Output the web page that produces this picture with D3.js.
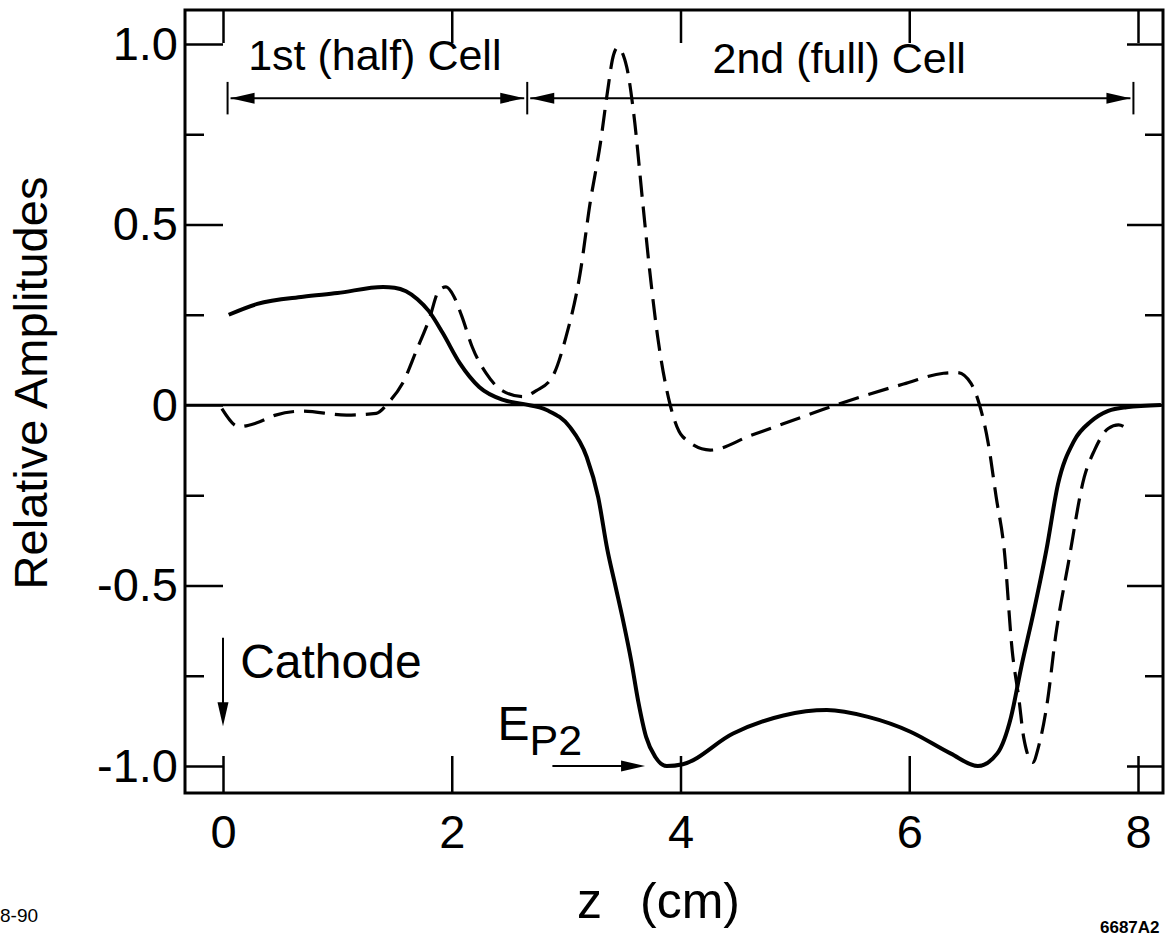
<!DOCTYPE html>
<html>
<head>
<meta charset="utf-8">
<title>Relative Amplitudes</title>
<style>
  body { margin: 0; background: #fff; }
  svg { display: block; }
  text { font-family: "Liberation Sans", Arial, Helvetica, sans-serif; fill: #000; }
  .axis text { font-size: 47px; }
  .axis line { stroke: #000; stroke-width: 2.5px; }
  .axis path { display: none; }
  .frame { fill: none; stroke: #000; stroke-width: 3px; }
  .zero { stroke: #000; stroke-width: 2.5px; }
  .solid { fill: none; stroke: #000; stroke-width: 4px; stroke-linejoin: round; }
  .dashed { fill: none; stroke: #000; stroke-width: 3.2px; stroke-dasharray: 21, 10; }
  .ann { stroke: #000; stroke-width: 2px; }
</style>
</head>
<body>
<script src="https://cdn.jsdelivr.net/npm/d3@7"></script>
<script>
// solid curve
var solidZ = [0.05, 0.3, 0.7, 1.0, 1.4, 1.5, 1.6, 1.7, 1.8, 1.92, 2.07, 2.24, 2.45, 2.62, 2.83, 3.03, 3.18, 3.28,
  3.36, 3.43, 3.5, 3.57, 3.63, 3.7, 3.78, 3.88, 4.02, 4.46, 4.9, 5.28, 5.64, 6.01, 6.36, 6.6, 6.77, 6.89, 6.98,
  7.09, 7.2, 7.3, 7.44, 7.59, 7.74, 7.9, 8.2];
var solidV = [0.25, 0.28, 0.30, 0.31, 0.327, 0.325, 0.315, 0.293, 0.26, 0.20, 0.116, 0.05, 0.014, 0.003, -0.014, -0.06, -0.144, -0.255,
  -0.40, -0.50, -0.60, -0.71, -0.82, -0.92, -0.975, -1.0, -0.995, -0.91, -0.86, -0.845, -0.864, -0.905, -0.965, -1.0, -0.965, -0.864, -0.725,
  -0.57, -0.40, -0.22, -0.10, -0.045, -0.016, -0.006, 0];

// dashed curve
var dashZ = [-0.01, 0.14, 0.29, 0.46, 0.69, 1.08, 1.34, 1.45, 1.57, 1.69, 1.8, 1.89, 1.95, 2.02, 2.09, 2.18,
  2.3, 2.44, 2.62, 2.74, 2.88, 3.0, 3.12, 3.21, 3.3, 3.36, 3.41, 3.45, 3.53, 3.59, 3.67, 3.73, 3.8, 3.91,
  4.02, 4.26, 4.61, 4.96, 5.25, 5.6, 5.95, 6.3, 6.42, 6.54, 6.61, 6.69, 6.76, 6.83, 6.9, 6.96, 7.0, 7.08,
  7.13, 7.21, 7.28, 7.39, 7.53, 7.62, 7.74, 7.83, 7.9];
var dashV = [-0.01, -0.06, -0.05, -0.028, -0.017, -0.028, -0.023, 0.008, 0.06, 0.15, 0.235, 0.318, 0.327, 0.30, 0.244, 0.16,
  0.088, 0.04, 0.023, 0.04, 0.078, 0.19, 0.36, 0.56, 0.726, 0.864, 0.964, 0.99, 0.936, 0.81, 0.56, 0.374, 0.19, 0.0,
  -0.088, -0.125, -0.085, -0.045, -0.012, 0.025, 0.058, 0.088, 0.09, 0.06, 0.005, -0.105, -0.255, -0.40, -0.68, -0.817, -0.92, -0.99,
  -0.947, -0.817, -0.64, -0.44, -0.2, -0.125, -0.065, -0.055, -0.065];

var xTicks = [0, 2, 4, 6, 8];
var yMajor = [-1, -0.5, 0, 0.5, 1];
var yMinor = [-0.75, -0.25, 0.25, 0.75];
var yLabels = ["-1.0", "-0.5", "0", "0.5", "1.0"];
var cellBounds = [0.04, 2.66, 7.96];
var cellNames = ["1st (half) Cell", "2nd (full) Cell"];

var W = 1174, H = 937;
var frame = { left: 185, right: 1163, top: 10, bottom: 793 };

var x = d3.scaleLinear().domain([0, 8]).range([223, 1138]);
var y = d3.scaleLinear().domain([-1, 1]).range([766, 44]);

var svg = d3.select("body").append("svg")
  .attr("width", W)
  .attr("height", H);

// axes (ticks point inward)
svg.append("g")
  .attr("class", "axis")
  .attr("transform", "translate(" + frame.left + ",0)")
  .call(d3.axisLeft(y).tickValues(yMajor).tickSizeInner(-38).tickSizeOuter(0).tickPadding(7)
    .tickFormat(function(d, i) { return yLabels[i]; }));
svg.append("g")
  .attr("class", "axis")
  .attr("transform", "translate(" + frame.left + ",0)")
  .call(d3.axisLeft(y).tickValues(yMinor).tickSizeInner(-19).tickSizeOuter(0).tickFormat(""));
svg.append("g")
  .attr("class", "axis")
  .attr("transform", "translate(" + frame.right + ",0)")
  .call(d3.axisRight(y).tickValues(yMajor).tickSizeInner(-36).tickSizeOuter(0).tickFormat(""));
svg.append("g")
  .attr("class", "axis")
  .attr("transform", "translate(" + frame.right + ",0)")
  .call(d3.axisRight(y).tickValues(yMinor).tickSizeInner(-18).tickSizeOuter(0).tickFormat(""));
svg.append("g")
  .attr("class", "axis")
  .attr("transform", "translate(0," + frame.bottom + ")")
  .call(d3.axisBottom(x).tickValues(xTicks).tickSizeInner(-37).tickSizeOuter(0).tickPadding(22)
    .tickFormat(d3.format("d")));
svg.append("g")
  .attr("class", "axis")
  .attr("transform", "translate(0," + frame.top + ")")
  .call(d3.axisTop(x).tickValues(xTicks).tickSizeInner(-33).tickSizeOuter(0).tickFormat(""));

svg.append("rect")
  .attr("class", "frame")
  .attr("x", frame.left)
  .attr("y", frame.top)
  .attr("width", frame.right - frame.left)
  .attr("height", frame.bottom - frame.top);

svg.append("line")
  .attr("class", "zero")
  .attr("x1", frame.left).attr("x2", frame.right)
  .attr("y1", y(0)).attr("y2", y(0));

// curves
var line = d3.line()
  .curve(d3.curveMonotoneX)
  .x(function(d) { return x(d[0]); })
  .y(function(d) { return y(d[1]); });

svg.append("path")
  .attr("class", "solid")
  .attr("d", line(d3.zip(solidZ, solidV)));

svg.append("path")
  .attr("class", "dashed")
  .attr("d", line(d3.zip(dashZ, dashV)));

// annotations
function head(px, py, dx, dy) {
  // filled arrowhead with tip at (px, py), pointing along (dx, dy)
  var len = 24, hw = 5.5;
  var bx = px - dx * len, by = py - dy * len;
  svg.append("path")
    .attr("d", "M" + px + "," + py +
      "L" + (bx - dy * hw) + "," + (by + dx * hw) +
      "L" + (bx + dy * hw) + "," + (by - dx * hw) + "Z")
    .attr("fill", "#000");
}

var yArrow = y(0.85);
cellBounds.forEach(function(b) {
  svg.append("line").attr("class", "ann")
    .attr("x1", x(b)).attr("x2", x(b))
    .attr("y1", y(0.895)).attr("y2", y(0.805));
});
for (var i = 0; i < cellBounds.length - 1; i++) {
  var a = x(cellBounds[i]) + 3, b = x(cellBounds[i + 1]) - 3;
  svg.append("line").attr("class", "ann")
    .attr("x1", a).attr("x2", b)
    .attr("y1", yArrow).attr("y2", yArrow);
  head(a, yArrow, -1, 0);
  head(b, yArrow, 1, 0);
}

svg.append("text")
  .attr("x", x(0.22)).attr("y", y(0.928))
  .style("font-size", "43px")
  .text(cellNames[0]);
svg.append("text")
  .attr("x", x(4.28)).attr("y", y(0.92))
  .style("font-size", "43px")
  .text(cellNames[1]);

// cathode marker
svg.append("line").attr("class", "ann")
  .attr("x1", x(0)).attr("x2", x(0))
  .attr("y1", y(-0.645)).attr("y2", y(-0.85));
head(x(0), y(-0.89), 0, 1);
svg.append("text")
  .attr("x", x(0.15)).attr("y", y(-0.756))
  .style("font-size", "48px")
  .text("Cathode");

// E_P2 marker
svg.append("line").attr("class", "ann")
  .attr("x1", x(2.88)).attr("x2", x(3.62))
  .attr("y1", y(-1.0)).attr("y2", y(-1.0));
head(x(3.69), y(-1.0), 1, 0);
var ep = svg.append("text")
  .attr("x", x(2.40)).attr("y", y(-0.928))
  .style("font-size", "48px");
ep.append("tspan").text("E");
ep.append("tspan").attr("dy", 15).style("font-size", "43px").text("P2");

// axis titles
svg.append("text")
  .attr("transform", "translate(47,383) rotate(-90)")
  .attr("text-anchor", "middle")
  .style("font-size", "47px")
  .text("Relative Amplitudes");

svg.append("text")
  .attr("x", 577).attr("y", 918)
  .style("font-size", "50px")
  .text("z");
svg.append("text")
  .attr("x", 640).attr("y", 918)
  .style("font-size", "50px")
  .text("(cm)");

svg.append("text")
  .attr("x", 0).attr("y", 922)
  .style("font-size", "19px")
  .text("8-90");
svg.append("text")
  .attr("x", 1100).attr("y", 933)
  .style("font-size", "17px")
  .style("font-weight", "bold")
  .text("6687A2");
</script>
</body>
</html>
